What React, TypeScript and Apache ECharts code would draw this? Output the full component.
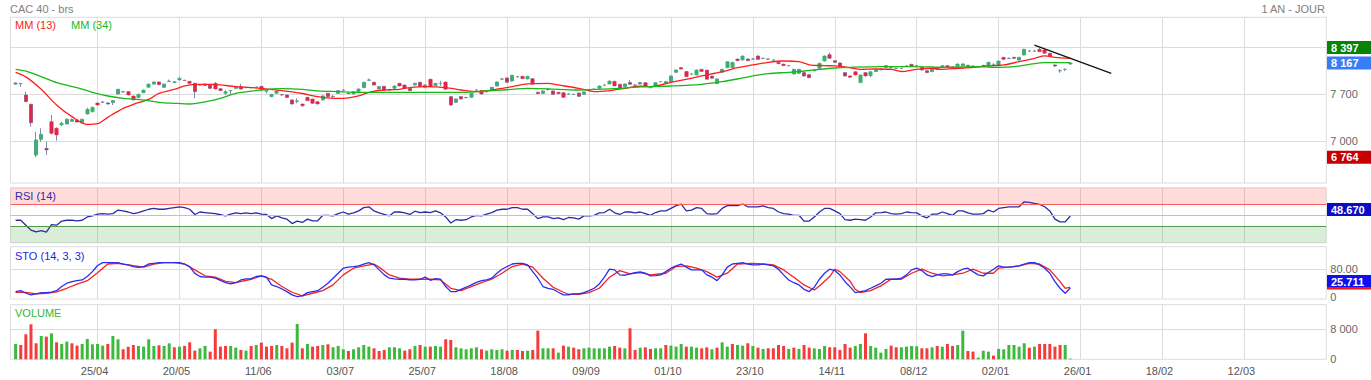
import React, { useEffect, useRef } from "react";
import * as echarts from "echarts";

// ---------- data ----------
const tickLabels = ["25/04", "20/05", "11/06", "03/07", "25/07", "18/08", "09/09", "01/10", "23/10", "14/11", "08/12", "02/01", "26/01", "18/02", "12/03"];
const FIRST_TICK_DAY = 16; // trading-day index of 25/04
const TICK_STEP = 16; // trading days between labelled dates
const SLOT_COUNT = 258; // one empty slot before the first day, then days 0..256

const opens = [7850,7860,7690,7551,6796,7030,6895,7293,7194,7243,
7258,7298,7318,7278,7407,7442,7571,7586,7571,7576,
7705,7735,7740,7675,7650,7724,7805,7853,7883,7805,
7890,7874,7913,7910,7893,7864,7840,7829,7840,7864,
7784,7715,7750,7789,7814,7800,7800,7805,7819,7745,
7665,7715,7695,7690,7616,7600,7556,7655,7630,7590,
7616,7715,7668,7715,7762,7720,7705,7740,7800,7910,
7879,7779,7819,7760,7789,7864,7839,7789,7839,7879,
7804,7924,7829,7862,7883,7665,7581,7665,7652,7655,
7762,7759,7740,7764,7824,7926,7943,7898,7961,7968,
7928,7933,7730,7715,7772,7749,7730,7724,7702,7698,
7719,7700,7762,7772,7789,7836,7853,7893,7849,7814,
7876,7836,7853,7874,7802,7829,7888,7868,7888,8028,
8097,8040,8001,7988,8072,8060,7970,7860,8028,8097,
8097,8226,8211,8226,8224,8270,8234,8224,8209,8177,
8150,8125,8003,8013,8023,7993,8050,8087,8196,8291,
8201,8167,8023,7973,8037,7874,8023,7978,8040,8065,
8102,8095,8085,8085,8120,8147,8125,8102,8052,8037,
8097,8102,8127,8112,8112,8127,8132,8122,8110,8132,
8127,8145,8127,8251,8234,8251,8211,8286,8343,8343,
8370,8360,8311,8137,8050,8070,8150];

const closes = [7870,7855,7591,7278,7020,7104,6870,7119,7094,7268,
7328,7325,7288,7328,7477,7506,7541,7582,7556,7606,
7775,7740,7690,7616,7700,7764,7852,7883,7843,7852,
7895,7888,7938,7905,7863,7739,7838,7852,7789,7780,
7755,7740,7755,7814,7779,7802,7798,7808,7764,7760,
7700,7750,7690,7655,7556,7598,7531,7606,7566,7556,
7675,7665,7665,7755,7764,7712,7740,7780,7879,7913,
7839,7814,7764,7770,7824,7824,7789,7755,7864,7814,
7839,7814,7864,7864,7775,7541,7630,7630,7650,7715,
7764,7704,7739,7804,7883,7928,7879,7983,7963,7933,
7968,7853,7710,7749,7774,7700,7710,7655,7704,7700,
7670,7735,7764,7774,7824,7838,7898,7824,7789,7853,
7850,7838,7874,7814,7800,7874,7890,7889,7973,8062,
8077,7963,8003,8062,8040,7925,7940,7928,8072,8186,
8176,8201,8270,8201,8226,8221,8236,8226,8211,8155,
8127,8127,8072,8072,7973,7948,8060,8162,8271,8236,
8176,8112,7973,7955,7988,7988,7973,8037,8065,8075,
8127,8097,8087,8087,8122,8122,8127,8062,8023,8087,
8072,8127,8102,8087,8152,8152,8112,8102,8112,8112,
8177,8147,8196,8221,8236,8236,8251,8370,8345,8345,
8335,8311,8261,8122,8052,8072,8167];

const highs = [7880,7870,7740,7560,7140,7194,6995,7392,7210,7290,
7340,7340,7330,7335,7500,7516,7575,7600,7580,7612,
7780,7750,7745,7680,7710,7770,7860,7890,7890,7860,
7920,7895,7960,7915,7900,7870,7850,7860,7845,7880,
7790,7760,7765,7820,7855,7812,7810,7815,7825,7770,
7705,7755,7700,7695,7620,7640,7560,7660,7635,7595,
7680,7720,7690,7760,7775,7725,7745,7785,7885,7935,
7885,7820,7825,7780,7830,7870,7845,7795,7870,7885,
7845,7930,7870,7900,7890,7670,7635,7670,7665,7720,
7775,7765,7750,7810,7890,7945,7950,7990,7975,7975,
7975,7940,7735,7755,7790,7755,7735,7730,7715,7710,
7725,7740,7775,7790,7830,7850,7905,7900,7855,7860,
7910,7850,7885,7880,7815,7880,7900,7900,7980,8068,
8105,8047,8012,8068,8078,8065,7975,7935,8078,8192,
8182,8232,8280,8232,8240,8280,8245,8235,8220,8183,
8155,8135,8078,8078,8028,7998,8066,8168,8278,8320,
8206,8172,8028,7978,8042,7994,8028,8043,8072,8085,
8133,8110,8098,8098,8135,8152,8138,8107,8057,8093,
8102,8133,8132,8117,8158,8158,8137,8127,8120,8137,
8183,8158,8202,8256,8248,8256,8256,8377,8360,8360,
8397,8365,8316,8142,8075,8085,8172];

const lows = [7840,7810,7585,7218,6764,6990,6796,7100,7010,7230,
7250,7290,7280,7260,7400,7430,7535,7570,7550,7540,
7700,7730,7685,7610,7645,7720,7800,7850,7840,7800,
7885,7870,7910,7900,7860,7640,7830,7825,7785,7775,
7750,7690,7690,7785,7775,7790,7790,7795,7760,7715,
7660,7710,7680,7650,7550,7566,7510,7600,7560,7550,
7610,7660,7630,7710,7755,7700,7700,7735,7795,7900,
7835,7775,7760,7750,7785,7820,7785,7750,7835,7810,
7800,7804,7825,7825,7770,7530,7575,7625,7640,7650,
7750,7700,7725,7760,7820,7915,7875,7895,7950,7930,
7925,7850,7705,7710,7755,7695,7705,7650,7690,7690,
7665,7695,7755,7765,7785,7830,7850,7820,7785,7810,
7845,7830,7850,7810,7790,7825,7880,7865,7885,8022,
8072,7958,7990,7985,8035,7920,7935,7855,8022,8092,
8092,8196,8206,8196,8215,8216,8225,8215,8200,8150,
8120,8115,7998,8008,7968,7943,8045,8082,8190,8231,
8171,8107,7968,7940,7983,7868,7968,7955,8035,8060,
8097,8085,8078,8078,8112,8117,8118,8057,8018,8032,
8067,8097,8097,8082,8107,8122,8107,8097,8105,8107,
8122,8138,8122,8216,8226,8231,8206,8281,8335,8335,
8330,8306,8256,8110,8020,8045,8140];

const volumes = [4090,3820,6670,9330,4270,6220,6045,6930,4530,4090,
4710,4270,3645,4090,5420,4000,4090,3645,4090,6220,
5330,2670,3380,3820,3560,3380,5330,3560,3730,3560,
4270,3200,3380,3560,4530,2310,2930,3560,2045,8000,
3380,3560,3560,3110,2490,2310,3560,3820,4445,3380,
3560,3820,3560,2930,4445,9420,
2930,4090,3380,3560,3820,4000,3200,3560,2670,2220,
2670,3200,3820,3380,2930,2220,2490,3200,3200,2930,
2310,2670,3560,3820,3380,3380,3560,3380,5330,5160,
3200,2930,2670,2930,3200,2670,2310,2670,2490,2670,
2310,2490,2490,2220,2310,2490,
7645,
2930,2930,2930,1780,3645,3380,3110,2670,2930,3110,2930,2930,2930,3380,3560,3110,2930,
8270,
2490,3110,3200,2760,2930,2930,3820,3645,3380,4090,3380,3380,3110,
2930,3200,2670,3110,4530,3380,4090,3820,3645,4270,
3560,3110,2760,2930,2930,3820,3560,2760,3110,2760,
3820,3110,2930,2760,3560,3200,3200,2490,4090,3110,
3560,4090,6930,3560,3110,1780,2760,3645,3200,3200,
3380,3560,3470,2930,2930,3200,3560,3380,4090,3560,
3820,7645,2220,2045,445,2310,2045,980,2760,2670,
3820,3820,3380,4270,3110,3380,4090,4090,4090,3380,
3820,3820,180];

// moving averages: [trading-day index, value]
const ma13Points = [[0,8028],[2,7960],[5,7774],[8,7541],[11,7367],[14,7250],[16,7262],[18,7357],[21,7491],[23,7551],[26,7625],[28,7715],[31,7774],[33,7824],[35,7849],[38,7849],[40,7839],[43,7814],[48,7789],[52,7755],[56,7712],[59,7665],[62,7640],[64,7640],[67,7675],[69,7730],[72,7764],[75,7774],[77,7799],[80,7814],[84,7799],[87,7764],[90,7740],[93,7764],[97,7814],[100,7854],[104,7864],[106,7839],[110,7789],[113,7740],[116,7755],[119,7789],[122,7820],[124,7814],[128,7879],[131,7923],[134,7973],[138,8037],[141,8097],[144,8137],[147,8177],[150,8196],[153,8186],[155,8140],[158,8127],[160,8122],[163,8095],[165,8072],[168,8077],[171,8072],[173,8040],[176,8072],[179,8087],[181,8072],[184,8087],[187,8102],[190,8122],[193,8137],[196,8186],[199,8236],[201,8271],[203,8251],[206,8236]];
const ma34Points = [[0,8072],[2,8045],[5,7963],[8,7874],[12,7799],[15,7730],[18,7675],[21,7640],[25,7616],[28,7581],[31,7566],[34,7556],[38,7601],[40,7640],[43,7715],[48,7764],[52,7784],[56,7774],[59,7750],[63,7740],[67,7730],[72,7730],[80,7730],[87,7730],[90,7740],[93,7755],[97,7774],[100,7789],[106,7774],[110,7764],[113,7774],[117,7784],[122,7810],[128,7824],[134,7849],[138,7889],[141,7928],[144,7973],[147,8008],[151,8028],[154,8047],[157,8072],[160,8092],[163,8102],[169,8112],[175,8112],[182,8102],[188,8112],[192,8102],[195,8112],[198,8147],[201,8172],[206,8172]];
const trendLine = [[199, 8433], [214, 8011]];

const rsi = [41,41,32,23,20,22,19.5,33,32,39.5,
41,41,40,41,47,49,52,53,52,53,
59.5,58,56,53,55,58,61,62.5,61,61,
62.5,64,65.5,64,61,51.5,56,55,54,53,
51,49,52,54.5,53,54.5,53,54.5,52,51.5,
44,49,45.5,43,35,39.5,37,43,40,40,
50,50,49,53,56,52,54.5,58,64,65.5,
58,54.5,51.5,49,56,56,54.5,51.5,57.5,55,
56,55,58,54.5,47,36,42,41,42,47,
50,49,52,55,59.5,61,61,64,64,61,
61,53,44,47,47,44,45.5,42,46,45.5,
43,49,49,50,54.5,55,61,54.5,51.5,56,
56,54.5,56,53,50,55,58,58,62.5,67.5,
70.5,58,59.5,64,62.5,53,52,53,62.5,67.5,
67.5,67.5,70.5,65.5,65.5,65.5,67,64,62.5,56,
53,52,50,50,39.5,39.5,47,56,62.5,62.5,
58,53,42,41,43,42,41,47,54.5,55,
56,53,52,53,56,55,54.5,49,45.5,52,
52,56,53,50,58,58,54.5,52,52,53,
59.5,56,62.5,64,65.5,65.5,65.5,74.5,73.5,71.5,
70,65.5,58,43,38,38,48.67];

const stoK = [15,18,10.6,5.8,8.7,12.5,12.5,13.5,18,30,
39.5,44,47,49,59,73,90.6,99,99,99,
99,95,92.5,87.7,85,87.7,95,97,99,99,
99,99,99,95,87.7,68,59,57,57,54,
48,41,37.6,41,49,52,53,59,60.7,57,
34.7,30,23,15.4,5.8,1,3,12.5,15.4,18,
28,39.5,54,68.4,83,86,87.7,89.6,95,99,
92.5,78,63.6,54,52,51,51,49,49,51,
57,48,53,51,30,15.4,15.4,22,28,34.7,
42,47,49,54,68.4,80,87.7,95,97,97,
92.5,73,54,30,25,22,13.5,5.8,5.8,8.7,
8.7,12.5,18,25,37.6,57,80,78,63.6,62.6,
66.5,70.3,72,68.4,60.7,61.7,63.6,73,83,89.6,
95,86,78,78,78,63.6,57,47,63.6,86,
95,97,99,95,92.5,92.5,95,92.5,89.6,80,
63.6,49,41,34.7,22,15.4,28,51,68.4,80,
76,63.6,44,29,12.5,15.4,18,25,31.8,39.5,
51,51,51,54,63.6,78,83,76,63.6,58.8,
63.6,66.5,66.5,63.6,73,80,83,73,63.6,60.7,
70.3,80,89.6,86,86,87.7,89.6,95,99,99,
92.5,83,68.4,44,25,10.6,25.711];

const stoDPoints = [[0,13.5],[2,13],[4,9],[6,10.5],[8,14.5],[10,25],[12,37],[14,47],[16,70],[18,95],[20,97],[21,95],[23,90],[25,86],[27,95],[29,99],[31,99],[33,95],[35,78],[37,61],[39,57],[41,45],[43,41],[46,51],[48,60.7],[50,51],[52,30],[54,13.5],[56,3],[58,10.6],[60,18],[62,34.7],[64,63.6],[66,83],[68,89.6],[70,95],[71,86],[73,63.6],[75,54],[77,51],[79,51],[81,51],[83,49],[85,25],[87,18],[89,30],[91,41],[93,51],[95,68.4],[97,87.7],[99,95],[101,86],[103,54],[105,28],[107,13.5],[108,7.7],[110,7.7],[112,12.5],[114,25],[116,57],[118,76],[120,66.5],[122,70.3],[124,63.6],[127,68.4],[129,87.7],[131,89.6],[133,83],[135,73],[137,57],[139,68.4],[141,95],[144,97],[146,95],[148,92.5],[150,78],[152,57],[154,34.7],[156,20],[157,31.8],[159,58.8],[160,80],[161,73],[163,45],[164,22],[165,12.5],[167,18],[169,31.8],[171,51],[173,51],[175,68.4],[177,80],[179,68.4],[181,60.7],[183,63.6],[185,68.4],[187,80],[189,68.4],[191,68.4],[192,83],[194,86],[196,89.6],[198,97],[200,95],[202,78],[204,44],[205,25],[206,28]];

// ---------- style ----------
const FONT = '"Liberation Sans", Arial, sans-serif';
const GRID_COLOR = "#dcdcdc";
const WICK = "#7d8fa8";
const UP = "#33b46a";
const DOWN = "#e2234b";
const VOL_UP = "#3dba3d";
const VOL_DOWN = "#f43c3c";
const LEFT = 10.5;
const WIDTH = 1315.8;

const spaced = (v: number) => String(Math.round(v)).replace(/\B(?=(\d{3})+(?!\d))/g, " ");

export default function App() {
  const ref = useRef<HTMLDivElement>(null);

  useEffect(() => {
    document.body.style.margin = "0";
    const chart = echarts.init(ref.current as HTMLDivElement, null, { renderer: "svg" });
    const X = (i: number) => i + 1;
    const cats = Array.from({ length: SLOT_COUNT }, (_, k) => String(k));
    const isTick = (k: number) => {
      const d = k - 1 - FIRST_TICK_DAY;
      return d >= 0 && d % TICK_STEP === 0 && d / TICK_STEP < tickLabels.length;
    };

    const wickData = opens.map((o, i) => [X(i), o, closes[i], lows[i], highs[i]]);
    const bodyData = opens.map((o, i) => [X(i), o, closes[i], Math.min(o, closes[i]), Math.max(o, closes[i])]);
    const volData = volumes.map((v, i) => {
      const prev = i === 0 ? opens[0] : closes[i - 1];
      return { value: [X(i), v], itemStyle: { color: closes[i] >= prev ? VOL_UP : VOL_DOWN } };
    });

    const grids = [
      { top: 17.3, height: 165.7 },
      { top: 187.8, height: 55 },
      { top: 246.7, height: 52.3 },
      { top: 304.7, height: 54.6 },
    ].map((g) => ({ left: LEFT, width: WIDTH, top: g.top, height: g.height, show: true, borderColor: GRID_COLOR, borderWidth: 1, backgroundColor: "transparent" }));

    const xAxes = [0, 1, 2, 3].map((g) => ({
      type: "category",
      gridIndex: g,
      data: cats,
      boundaryGap: false,
      axisLine: { show: false },
      axisTick: { show: false },
      axisLabel: {
        show: g === 3,
        interval: (k: number) => isTick(k),
        showMinLabel: true,
        showMaxLabel: true,
        formatter: (_v: string, k: number) => (isTick(k) ? tickLabels[(k - 1 - FIRST_TICK_DAY) / TICK_STEP] : ""),
        color: "#555",
        fontSize: 11,
        fontFamily: FONT,
        margin: 6,
        padding: [0, 6, 0, 0],
      },
      splitLine: { show: true, interval: (k: number) => isTick(k), lineStyle: { color: GRID_COLOR, width: 1 } },
    }));

    const labelStyle = { color: "#666", fontSize: 11, fontFamily: FONT, margin: 4 };
    const yAxes = [
      {
        type: "value", gridIndex: 0, position: "right", min: 6379, max: 8847,
        axisLine: { show: false }, axisTick: { show: false, customValues: [7000, 7700, 8400] },
        axisLabel: { ...labelStyle, customValues: [7000, 7700], formatter: (v: number) => spaced(v) },
        splitLine: { show: true, lineStyle: { color: GRID_COLOR } },
      },
      {
        type: "value", gridIndex: 1, position: "right", min: 0, max: 100,
        axisLine: { show: false }, axisTick: { show: false }, axisLabel: { show: false }, splitLine: { show: false },
      },
      {
        type: "value", gridIndex: 2, position: "right", min: -6, max: 145,
        axisLine: { show: false }, axisTick: { show: false, customValues: [80] },
        axisLabel: { ...labelStyle, customValues: [0, 80], formatter: (v: number) => (v === 0 ? "0" : v.toFixed(2)) },
        splitLine: { show: true, lineStyle: { color: GRID_COLOR } },
      },
      {
        type: "value", gridIndex: 3, position: "right", min: 0, max: 14560,
        axisLine: { show: false }, axisTick: { show: false, customValues: [8000] },
        axisLabel: { ...labelStyle, customValues: [0, 8000], formatter: (v: number) => spaced(v) },
        splitLine: { show: true, lineStyle: { color: GRID_COLOR } },
      },
    ];

    const series: any[] = [
      {
        type: "candlestick", name: "wicks", xAxisIndex: 0, yAxisIndex: 0, data: wickData,
        encode: { x: 0, y: [1, 2, 3, 4] }, barWidth: 3, silent: true,
        itemStyle: { color: "rgba(0,0,0,0)", color0: "rgba(0,0,0,0)", borderColor: WICK, borderColor0: WICK, borderColorDoji: WICK, borderWidth: 1 },
      },
      {
        type: "candlestick", name: "bodies", xAxisIndex: 0, yAxisIndex: 0, data: bodyData,
        encode: { x: 0, y: [1, 2, 3, 4] }, barWidth: 4, silent: true,
        itemStyle: { color: UP, color0: DOWN, borderColor: UP, borderColor0: DOWN, borderWidth: 0 },
      },
      {
        type: "line", name: "MM (13)", xAxisIndex: 0, yAxisIndex: 0, data: ma13Points.map(([i, v]) => [X(i), v]),
        smooth: 0.3, symbol: "none", lineStyle: { color: "#ff1e1e", width: 1.3 }, silent: true,
      },
      {
        type: "line", name: "MM (34)", xAxisIndex: 0, yAxisIndex: 0, data: ma34Points.map(([i, v]) => [X(i), v]),
        smooth: 0.3, symbol: "none", lineStyle: { color: "#18b818", width: 1.3 }, silent: true,
      },
      {
        type: "line", name: "trend", xAxisIndex: 0, yAxisIndex: 0, data: trendLine.map(([i, v]) => [X(i), v]),
        symbol: "none", lineStyle: { color: "#111", width: 1.2 }, silent: true,
      },
      {
        type: "line", name: "RSI (14)", xAxisIndex: 1, yAxisIndex: 1, data: rsi.map((v, i) => [X(i), v]),
        symbol: "none", lineStyle: { color: "#2c2ca6", width: 1.3 }, silent: true,
        markArea: {
          silent: true,
          data: [
            [{ yAxis: 70, itemStyle: { color: "rgba(255,40,40,0.17)" } }, { yAxis: 100 }],
            [{ yAxis: 0, itemStyle: { color: "rgba(20,140,20,0.16)" } }, { yAxis: 30 }],
          ],
        },
        markLine: {
          silent: true, symbol: "none", label: { show: false },
          data: [
            { yAxis: 70, lineStyle: { color: "#ff5c5c", width: 1, type: "solid" } },
            { yAxis: 50, lineStyle: { color: "#9cc9f5", width: 1, type: "solid" } },
            { yAxis: 30, lineStyle: { color: "#4f9c4f", width: 1, type: "solid" } },
          ],
        },
      },
      {
        type: "line", name: "STO D", xAxisIndex: 2, yAxisIndex: 2, data: stoDPoints.map(([i, v]) => [X(i), v]),
        symbol: "none", lineStyle: { color: "#f02424", width: 1.3 }, silent: true,
      },
      {
        type: "line", name: "STO K", xAxisIndex: 2, yAxisIndex: 2, data: stoK.map((v, i) => [X(i), v]),
        symbol: "none", lineStyle: { color: "#2d2df0", width: 1.3 }, silent: true,
      },
      {
        type: "bar", name: "VOLUME", xAxisIndex: 3, yAxisIndex: 3, data: volData, barWidth: 3, silent: true,
      },
    ];

    chart.setOption({ animation: false, grid: grids, xAxis: xAxes, yAxis: yAxes, series });

    const hi = Math.max(...highs);
    const lo = Math.min(...lows);
    const last = closes[closes.length - 1];
    const lastRsi = rsi[rsi.length - 1];
    const lastK = stoK[stoK.length - 1];
    const py = (axis: number, v: number) => chart.convertToPixel({ yAxisIndex: axis }, v) as number;

    const text = (t: string, x: number, y: number, color: string, extra: any = {}) => ({
      type: "text", z: 100, x, y,
      style: { text: t, fill: color, font: `11px ${FONT}`, verticalAlign: "middle", ...extra },
    });
    const badge = (t: string, yTop: number, fill: string) => ({
      type: "group", z: 100,
      children: [
        { type: "rect", shape: { x: 1327, y: yTop, width: 44, height: 13 }, style: { fill } },
        { type: "text", x: 1331, y: yTop + 6.8, style: { text: t, fill: "#fff", font: `bold 11px ${FONT}`, verticalAlign: "middle" } },
      ],
    });

    const yK = py(2, lastK);
    chart.setOption({
      graphic: [
        text("CAC 40 - brs", 10, 9, "#808080"),
        text("1 AN - JOUR", 1325, 9, "#808080", { align: "right" }),
        text("MM (13)", 15, 25, "#ff2020"),
        text("MM (34)", 71, 25, "#1db51d"),
        text("RSI (14)", 15, 196, "#2c2ca6"),
        text("STO (14, 3, 3)", 15, 256, "#2626dd"),
        text("VOLUME", 15, 313, "#35b835"),
        badge(spaced(hi), py(0, hi) - 6.5, "#078407"),
        badge(spaced(last), py(0, last) - 6.5, "#3b7cf4"),
        badge(spaced(lo), py(0, lo) - 6.5, "#c80000"),
        badge(lastRsi.toFixed(3), py(1, lastRsi) - 13, "#0b0bc6"),
        { type: "rect", z: 99, shape: { x: 1327, y: yK - 1, width: 44, height: 2.5 }, style: { fill: "#ff1010" } },
        badge(lastK.toFixed(3), yK - 13, "#1010ee"),
      ],
    });

    return () => chart.dispose();
  }, []);

  return <div ref={ref} style={{ width: 1371, height: 380 }} />;
}
